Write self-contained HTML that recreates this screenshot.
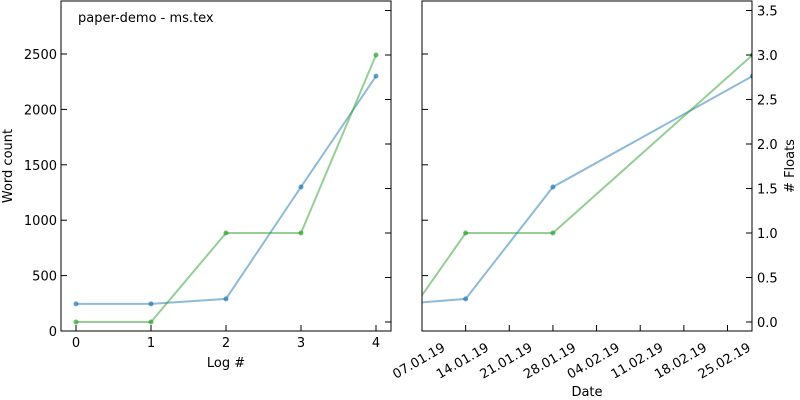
<!DOCTYPE html>
<html><head><meta charset="utf-8"><style>
body{margin:0;background:#fff}
svg{display:block;font-family:"DejaVu Sans","Liberation Sans",sans-serif;font-size:13px}
</style></head><body>
<svg id="c" width="800" height="400" viewBox="0 0 800 400"></svg>
<script>
const logIdx=[0,1,2,3,4];
const words=[245,245,290,1300,2300];
const floats=[0,0,1,1,3];
const dayOffsets=[-10,-3,7,21,53];
const wordTicks=[0,500,1000,1500,2000,2500];
const floatTicks=[0,0.5,1,1.5,2,2.5,3,3.5];
const floatTickLabels=["0.0","0.5","1.0","1.5","2.0","2.5","3.0","3.5"];
const dateTickDays=[0,7,14,21,28,35,42,49];
const dateTickLabels=["07.01.19","14.01.19","21.01.19","28.01.19","04.02.19","11.02.19","18.02.19","25.02.19"];

const svg=document.getElementById('c');
const NS='http://www.w3.org/2000/svg';
function mk(tag,attrs,parent){const e=document.createElementNS(NS,tag);for(const k in attrs)e.setAttribute(k,attrs[k]);(parent||svg).appendChild(e);return e;}
const yW=v=>331-v*(277/2500);
const yF=v=>322-v*89;
const xL=v=>76+v*75;
const xD=d=>422+d*(305.5/49);
const BLUE='#1f77b4',GREEN='#2ca02c';

const defs=mk('defs',{});
const cp1=mk('clipPath',{id:'clipL'},defs);mk('rect',{x:61,y:1,width:330,height:330},cp1);
const cp2=mk('clipPath',{id:'clipR'},defs);mk('rect',{x:422,y:1,width:330,height:330},cp2);

function series(xs,ys,color,clip,name){
  const g=mk('g',{'clip-path':'url(#'+clip+')'});
  
  
  const pts=xs.map((x,i)=>x+','+ys[i]).join(' ');
  const l=mk('polyline',{points:pts,fill:'none',stroke:color,'stroke-width':2,'stroke-opacity':0.5},g);
  
  
  xs.forEach((x,i)=>{const c=mk('circle',{cx:x,cy:ys[i],r:2.5,fill:color,'fill-opacity':0.7},g);
    
    });
}
series(logIdx.map(xL),words.map(yW),BLUE,'clipL','word-count-series-left');
series(logIdx.map(xL),floats.map(yF),GREEN,'clipL','floats-series-left');
series(dayOffsets.map(xD),words.map(yW),BLUE,'clipR','word-count-series-right');
series(dayOffsets.map(xD),floats.map(yF),GREEN,'clipR','floats-series-right');

const f1=mk('rect',{x:61,y:1,width:330,height:330,fill:'none',stroke:'#000','stroke-width':1});

const f2=mk('rect',{x:422,y:1,width:330,height:330,fill:'none',stroke:'#000','stroke-width':1});


function tick(x1,y1,x2,y2,name){const t=mk('line',{x1,y1,x2,y2,stroke:'#000','stroke-width':1});
  }
function txt(x,y,s,anchor,name,extra){const t=mk('text',Object.assign({x,y,'text-anchor':anchor,fill:'#000'},extra||{}));t.textContent=s;
  return t;}

wordTicks.forEach(v=>{const y=yW(v);
  tick(61,y,67,y,'word-tick');tick(422,y,428,y,'word-tick-right-plot');
  txt(57,y+5,String(v),'end','word-tick-label');});
floatTicks.forEach((v,i)=>{const y=yF(v);
  tick(391,y,385,y,'float-tick-left-plot');tick(752,y,746,y,'float-tick');
  txt(757,y+5,floatTickLabels[i],'start','float-tick-label');});
logIdx.forEach(v=>{const x=xL(v);tick(x,331,x,325,'log-tick');txt(x,347,String(v),'middle','log-tick-label');});
dateTickDays.forEach((d,i)=>{const x=xD(d);tick(x,331,x,325,'date-tick');
  const ax=x+24, ay=350;
  txt(ax,ay,dateTickLabels[i],'end','date-tick-label',{transform:'rotate(-30 '+ax+' '+ay+')'});});

txt(226,367,'Log #','middle','x-axis-title-left');
txt(587,396,'Date','middle','x-axis-title-right');
txt(12,166,'Word count','middle','y-axis-title-left',{transform:'rotate(-90 12 166)'});
txt(794,166,'# Floats','middle','y-axis-title-right',{transform:'rotate(-90 794 166)'});
txt(78,22,'paper-demo - ms.tex','start','plot-title');
</script>
</body></html>
